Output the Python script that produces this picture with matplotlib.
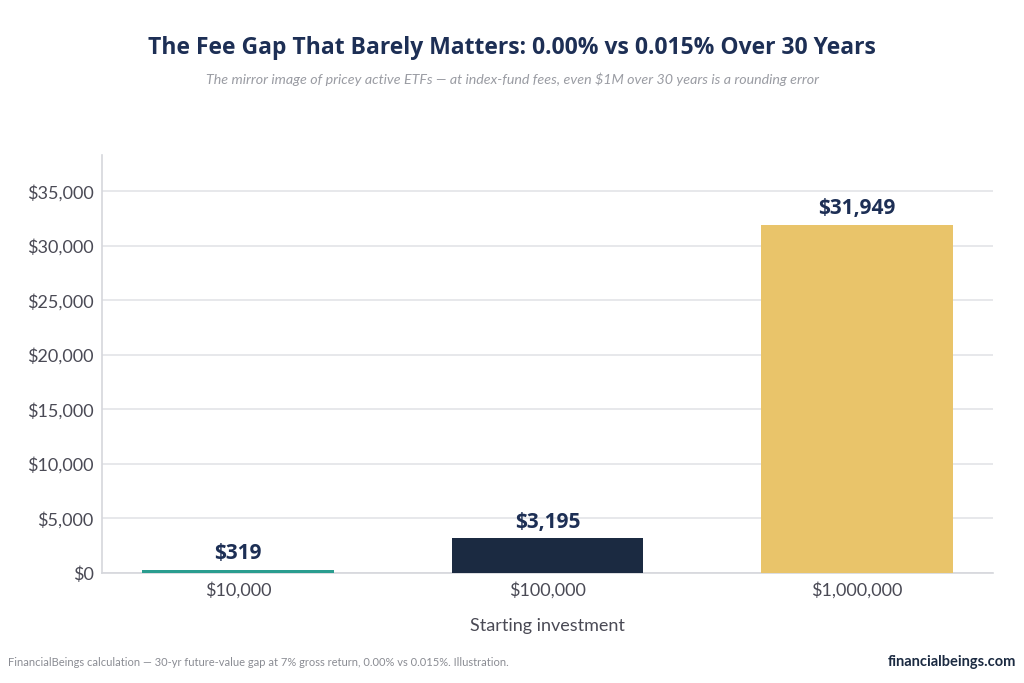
import numpy as np
import matplotlib.pyplot as plt
from matplotlib.ticker import FuncFormatter

categories = ["$10,000", "$100,000", "$1,000,000"]
fee_gap = [319, 3195, 31949]
bar_colors = ["#2a9d8f", "#1b2a41", "#e9c46a"]
y_ticks = [0, 5000, 10000, 15000, 20000, 25000, 30000, 35000]

navy = "#1d2f55"
plt.rcParams['font.family'] = ['Lato', 'DejaVu Sans']

fig = plt.figure(figsize=(10.24, 6.83), dpi=100)
ax = fig.add_axes([102 / 1024, 1 - 573 / 683, 891 / 1024, (573 - 155) / 683])

x = np.arange(len(categories))
ax.bar(x, fee_gap, width=0.62, color=bar_colors, zorder=3)

for xi, v in zip(x, fee_gap):
    ax.annotate(f"${v:,}", (xi, v), xytext=(0, 4), textcoords="offset points",
                ha="center", va="bottom", fontsize=15, fontweight="bold",
                color=navy, family=["Open Sans", "DejaVu Sans"], zorder=4)

ax.set_xlim(-0.44, 2.44)
ax.set_ylim(0, max(fee_gap) * 1.2)
ax.set_xticks(x)
ax.set_xticklabels(categories)
ax.set_yticks(y_ticks)
ax.yaxis.set_major_formatter(FuncFormatter(lambda v, p: f"${v:,.0f}"))
ax.tick_params(length=0, labelsize=13, labelcolor="#4a4a55", pad=6)
ax.grid(axis="y", color="#e3e4e8", linewidth=1.2, zorder=0)
for s in ["top", "right"]:
    ax.spines[s].set_visible(False)
for s in ["left", "bottom"]:
    ax.spines[s].set_color("#d5d7dc")
    ax.spines[s].set_linewidth(1.2)
ax.set_xlabel("Starting investment", fontsize=13, color="#4a4a55", labelpad=14)

fig.text(0.5, 1 - 48 / 683, "The Fee Gap That Barely Matters: 0.00% vs 0.015% Over 30 Years",
         ha="center", va="center", fontsize=16.5, fontweight="bold", color=navy,
         family=["Open Sans", "DejaVu Sans"])
fig.text(0.5, 1 - 79 / 683,
         "The mirror image of pricey active ETFs \u2014 at index-fund fees, even $1M over 30 years is a rounding error",
         ha="center", va="center", fontsize=10.3, style="italic", color="#9a9ca3")
fig.text(8 / 1024, 1 - 662 / 683,
         "FinancialBeings calculation \u2014 30-yr future-value gap at 7% gross return, 0.00% vs 0.015%. Illustration.",
         ha="left", va="center", fontsize=8, color="#8a8c93")
fig.text(1016 / 1024, 1 - 662 / 683, "financialbeings.com", ha="right", va="center",
         fontsize=10.5, fontweight="bold", color="#1b2a41")

fig.savefig("out.png", dpi=100)
